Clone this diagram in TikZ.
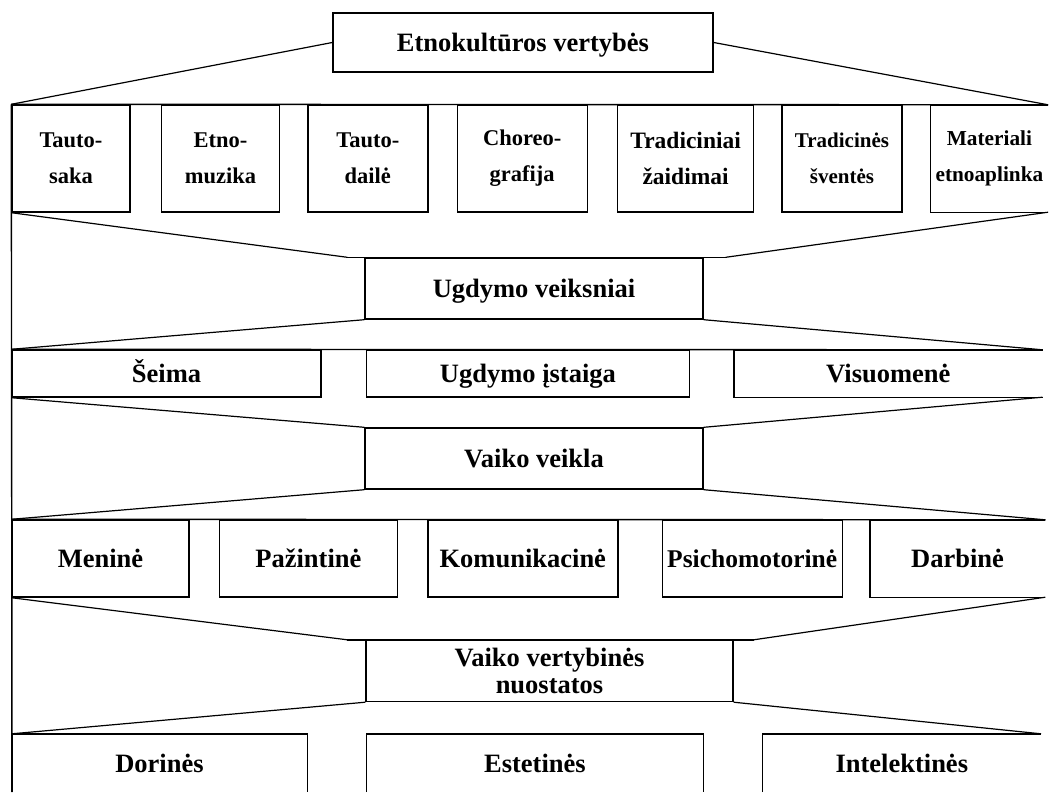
\documentclass[tikz,border=0pt]{standalone}
\usepackage{fontspec}
\setmainfont{Liberation Serif}
\usepackage{tikz}
\usetikzlibrary{positioning}

\begin{document}
\begin{tikzpicture}[x=1pt,y=-1pt,every text node part/.style={align=center}]
\tikzset{myFont/.style={font=\fontsize{26.5}{27}\selectfont\bfseries}}
\tikzset{rowFont/.style={font=\fontsize{22.5}{36}\selectfont\bfseries}}
\tikzset{myText/.style={inner sep=0pt,myFont}}
\tikzset{oneLine/.style={text height=18pt,text depth=0pt}}
\tikzset{myBox/.style={draw,line width=1.4pt,myText}}
\tikzset{myLine/.style={line width=1.2pt}}

\useasboundingbox (0,0) rectangle (1051,792);

\node[myBox,oneLine,minimum width=380pt,minimum height=59pt] (title) at (523,42.5) {Etnokult\=uros vertyb\.es};

% first row
\tikzset{rowOne/.style={myBox,rowFont,minimum height=107pt}}
\node[rowOne,minimum width=118pt] (tautosaka) at (71,158.5) {Tauto-\\saka};
\node[rowOne,minimum width=118pt,right=30pt of tautosaka] (etnomuzika) {Etno-\\muzika};
\node[rowOne,minimum width=120pt,right=27pt of etnomuzika] (tautodaile) {Tauto-\\dail\.e};
\node[rowOne,minimum width=130pt,right=28pt of tautodaile] (choreo) {Choreo-\\grafija};
\node[rowOne,minimum width=136pt,right=29pt of choreo,font=\fontsize{23.5}{36}\selectfont\bfseries] (zaidimai) {Tradiciniai\\\v{z}aidimai};
\node[rowOne,minimum width=120pt,right=27pt of zaidimai,font=\fontsize{21}{36}\selectfont\bfseries] (sventes) {Tradicin\.es\\\v{s}vent\.es};
\node[myText,minimum height=107pt,minimum width=117pt,right=28pt of sventes,font=\fontsize{21.3}{36}\selectfont\bfseries] (aplinka) {Materiali\\etnoaplinka};

\node[myBox,oneLine,minimum width=338pt,minimum height=61pt] (veiksniai) at (534,288.5) {Ugdymo veiksniai};

% second row
\tikzset{rowTwo/.style={myBox,oneLine,minimum height=47pt}}
\node[rowTwo,minimum width=309pt] (seima) at (166.5,373.5) {\v{S}eima};
\node[rowTwo,minimum width=323pt,right=44pt of seima] (istaiga) {Ugdymo \k{i}staiga};
\node[myText,oneLine,minimum height=47pt,minimum width=308pt,right=44pt of istaiga] (visuomene) {Visuomen\.e};

\node[myBox,oneLine,minimum width=338pt,minimum height=61pt] (veikla) at (534,458.5) {Vaiko veikla};

% third row
\tikzset{rowThree/.style={myBox,oneLine,minimum height=77pt}}
\node[rowThree,minimum width=177pt] (menine) at (100.5,558.5) {Menin\.e};
\node[rowThree,minimum width=178pt,right=29pt of menine] (pazintine) {Pa\v{z}intin\.e};
\node[rowThree,minimum width=190pt,right=29pt of pazintine] (komunikacine) {Komunikacin\.e};
\node[rowThree,minimum width=180pt,right=43pt of komunikacine,font=\fontsize{25.5}{27}\selectfont\bfseries,text height=17.5pt] (psichomotorine) {Psichomotorin\.e};
\node[myText,oneLine,minimum height=77pt,minimum width=175pt,right=27pt of psichomotorine] (darbine) {Darbin\.e};

\node[myBox,minimum width=367pt,minimum height=61pt] (nuostatos) at (549.5,671) {Vaiko vertybin\.es\\nuostatos};

% fourth row
\tikzset{rowFour/.style={myText,oneLine,minimum height=58pt}}
\node[rowFour,minimum width=295pt] (dorines) at (159.5,763) {Dorin\.es};
\node[rowFour,minimum width=337pt,right=59pt of dorines] (estetines) {Estetin\.es};
\node[rowFour,minimum width=278pt,right=59pt of estetines] (intelektines) {Intelektin\.es};

\coordinate (bottomLeft) at (12,792);

% open sides and long rules
\draw[line width=1.4pt] (aplinka.north east) -- (aplinka.north west) -- (aplinka.south west) -- (aplinka.south east);
\draw[line width=1.4pt] (visuomene.north east) -- (visuomene.north west) -- (visuomene.south west) -- (visuomene.south east);
\draw[line width=1.4pt] (darbine.north east) -- (darbine.north west) -- (darbine.south west) -- (darbine.south east);
\draw[line width=1.4pt] (dorines.south west) -- (dorines.north west) -- (dorines.north east) -- (dorines.south east);
\draw[line width=1.4pt] (estetines.south west) -- (estetines.north west) -- (estetines.north east) -- (estetines.south east);
\draw[line width=1.4pt] (intelektines.south west) -- (intelektines.north west) -- (intelektines.north east);
\draw[line width=1.4pt] (tautosaka.north west) -- (aplinka.north east);
\draw[line width=1.4pt] (seima.north west) -- (visuomene.north east);
\draw[line width=1.4pt] (menine.north west) -- (darbine.north east);
\draw[line width=1.4pt] ([xshift=-17pt]veiksniai.north west) -- ([xshift=22pt]veiksniai.north east);
\draw[line width=1.4pt] ([xshift=-18pt]nuostatos.north west) -- ([xshift=20pt]nuostatos.north east);
\draw[line width=1.4pt] (tautosaka.north west) -- (bottomLeft);

% funnels
\path[draw,myLine] (title.west) -- (tautosaka.north west);
\path[draw,myLine] (title.east) -- (aplinka.north east);
\path[draw,myLine] (tautosaka.south west) -- ([xshift=-17pt]veiksniai.north west);
\path[draw,myLine] (aplinka.south east) -- ([xshift=22pt]veiksniai.north east);
\path[draw,myLine] (veiksniai.south west) -- (seima.north west);
\path[draw,myLine] (veiksniai.south east) -- (visuomene.north east);
\path[draw,myLine] (seima.south west) -- (veikla.north west);
\path[draw,myLine] (visuomene.south east) -- (veikla.north east);
\path[draw,myLine] (veikla.south west) -- (menine.north west);
\path[draw,myLine] (veikla.south east) -- (darbine.north east);
\path[draw,myLine] (menine.south west) -- ([xshift=-18pt]nuostatos.north west);
\path[draw,myLine] (darbine.south east) -- ([xshift=20pt]nuostatos.north east);
\path[draw,myLine] (nuostatos.south west) -- (dorines.north west);
\path[draw,myLine] (nuostatos.south east) -- (intelektines.north east);

\end{tikzpicture}
\end{document}
